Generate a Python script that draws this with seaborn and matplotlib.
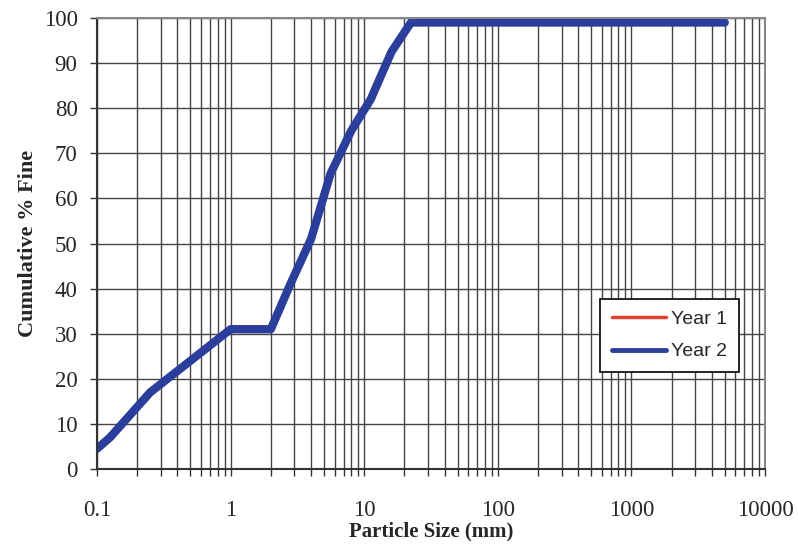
"""
Particle size distribution: cumulative % fine vs particle size.
"""

import numpy as np
import pandas as pd
import matplotlib
matplotlib.use("Agg")
import matplotlib.pyplot as plt
from matplotlib.lines import Line2D
from matplotlib.ticker import LogLocator, FixedLocator, NullFormatter
import seaborn as sns

# sieve sizes (mm) and cumulative percent passing
sizes_mm = [0.1, 0.125, 0.25, 0.5, 1.0, 2.0, 2.8, 4.0, 5.6, 8.0, 11.2, 16.0, 22.4, 5000.0]
year1_fine = [4.5, 7.0, 17.0, 24.0, 31.0, 31.0, 41.0, 51.0, 65.5, 75.0, 82.0, 92.5, 99.0, 99.0]
year2_fine = [4.5, 7.0, 17.0, 24.0, 31.0, 31.0, 41.0, 51.0, 65.5, 75.0, 82.0, 92.5, 99.0, 99.0]

x_ticks = [0.1, 1, 10, 100, 1000, 10000]
x_tick_labels = ["0.1", "1", "10", "100", "1000", "10000"]
y_ticks = list(range(0, 101, 10))

df = pd.concat([
    pd.DataFrame({"size": sizes_mm, "fine": year1_fine, "series": "Year 1"}),
    pd.DataFrame({"size": sizes_mm, "fine": year2_fine, "series": "Year 2"}),
])

sns.set_theme(style="white")
plt.rcParams["font.family"] = ["Liberation Serif", "DejaVu Serif"]

fig = plt.figure(figsize=(7.98, 5.45), dpi=100)
ax = fig.add_axes([0.1216, 0.1394, 0.8370, 0.8276])

palette = {"Year 1": "#e0402e", "Year 2": "#2b3e9c"}
sns.lineplot(data=df[df["series"] == "Year 1"], x="size", y="fine", hue="series",
             palette=palette, linewidth=2.5, ax=ax, legend=False)
sns.lineplot(data=df[df["series"] == "Year 2"], x="size", y="fine", hue="series",
             palette=palette, linewidth=6, ax=ax, legend=False)

ax.set_xscale("log")
ax.set_xlim(0.1, 10000)
ax.set_ylim(0, 100)

ax.xaxis.set_major_locator(FixedLocator(x_ticks))
ax.set_xticklabels(x_tick_labels)
ax.xaxis.set_minor_locator(LogLocator(base=10, subs=np.arange(2, 10), numticks=20))
ax.xaxis.set_minor_formatter(NullFormatter())
ax.set_yticks(y_ticks)

ax.grid(True, which="major", axis="both", color="#444444", linewidth=1.0)
ax.grid(True, which="minor", axis="x", color="#444444", linewidth=1.0)

ax.tick_params(axis="both", which="both", direction="out", color="#333333",
               length=5, width=1, labelsize=16.5, bottom=True, left=True)
ax.tick_params(axis="y", which="major", pad=9)
ax.tick_params(axis="x", which="major", pad=17)

for side, sp in ax.spines.items():
    sp.set_color("#333333" if side in ("left", "bottom") else "#888888")
    sp.set_linewidth(1.5)

ax.set_xlabel("Particle Size (mm)", fontsize=15, fontweight="bold", labelpad=1)
ax.set_ylabel("Cumulative % Fine", fontsize=16, fontweight="bold", labelpad=4)

handles = [Line2D([], [], color=palette["Year 1"], linewidth=2.5),
           Line2D([], [], color=palette["Year 2"], linewidth=3.5)]
leg = ax.legend(handles, ["Year 1", "Year 2"], loc="lower left",
                bbox_to_anchor=(0.753, 0.215), frameon=True, fancybox=False,
                edgecolor="black", framealpha=1.0, borderpad=0.6, handlelength=2.8,
                handletextpad=0.25, labelspacing=0.75, borderaxespad=0,
                prop={"family": "Liberation Sans", "size": 14})
leg.get_frame().set_linewidth(1.2)

fig.savefig("out.png", dpi=100)
